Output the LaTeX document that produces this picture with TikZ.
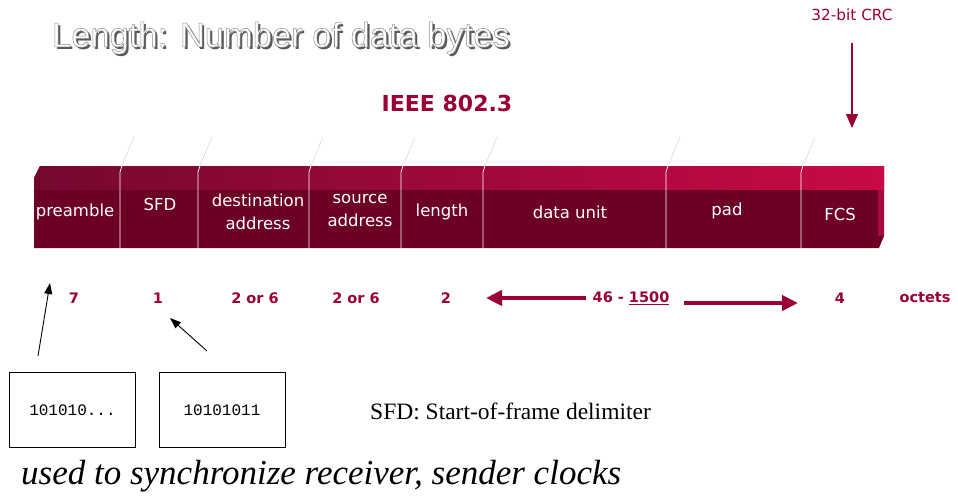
\documentclass[tikz,border=0pt]{standalone}
\usepackage{fontspec}
\setmainfont{Liberation Serif}
\newfontfamily\labelfont{DejaVu Sans}
\newfontfamily\headfont{Liberation Sans}
\newfontfamily\bitfont{Liberation Mono}
\usetikzlibrary{arrows.meta}
\definecolor{frontred}{HTML}{6C0026}
\definecolor{leftred}{HTML}{760830}
\definecolor{brightred}{HTML}{C80A46}
\definecolor{sidered}{HTML}{A8083C}
\definecolor{textred}{HTML}{9A0036}
% outlined text: fill plus grey stroke via the PDF text render mode
\newcommand{\outlined}[1]{\special{pdf:literal direct 2 Tr 0.5 w 0.55 0.55 0.55 RG}#1\special{pdf:literal direct 0 Tr}}
\tikzset{
  field/.style={text=white, font=\labelfont\fontsize{16.5}{23}\selectfont, align=center, inner sep=0pt},
  size/.style={text=textred, font=\labelfont\bfseries\fontsize{14.5}{16}\selectfont, inner sep=0pt},
  divider/.style={white, line width=0.7pt},
  ghost/.style={gray!35, line width=0.5pt},
  thickarrow/.style={textred, line width=4pt, -{Triangle[length=16pt,width=15pt]}},
  thinarrow/.style={black, line width=0.9pt, -{Triangle[length=11pt,width=8pt]}},
  bitbox/.style={draw=black, line width=0.8pt, minimum width=126pt, minimum height=75pt, inner sep=0pt, font=\bitfont\fontsize{16}{18}\selectfont}
}
\begin{document}
\begin{tikzpicture}[x=1pt,y=-1pt]
\useasboundingbox (0,0) rectangle (958,498);

% title: drop shadow, then white text with a grey outline
\node[text=black!65, font=\headfont\fontsize{34.5}{38}\selectfont] (titleshadow) at (283.2,40.2) {Length: Number of data bytes};
\node[text=white, font=\headfont\fontsize{34.5}{38}\selectfont] (title) at (281,38) {\outlined{Length: Number of data bytes}};

% standard name
\node[text=textred, font=\labelfont\bfseries\fontsize{22}{26}\selectfont] (std) at (447,103) {IEEE 802.3};

% CRC note
\node[text=textred, font=\labelfont\fontsize{15.3}{18}\selectfont] (crc) at (852,15) {32-bit CRC};
\coordinate (crctip) at (852,128);
\draw[textred, line width=1.2pt, -{Triangle[length=14pt,width=12pt]}] (852,43) -- (crctip);

% frame bar: front face, shaded top face, right side
\fill[frontred] (40,166) -- (884,166) -- (884,236) -- (879,248) -- (34,248) -- (34,178) -- cycle;
\shade[left color=leftred, right color=brightred] (40,166) rectangle (884,190);
\fill[sidered] (878,190) rectangle (884,236);
\fill[frontred] (40,190) rectangle (878,248);
\fill[leftred!70!frontred] (34,178) -- (40,166) -- (40,190) -- (34,190) -- cycle;

% field dividers and their faint upward traces
\foreach \x in {120,198,309,401,483,666,801} {
  \draw[ghost] (\x+1,168) -- (\x+14,137);
  \draw[divider] (\x+2,166) -- (\x,172) -- (\x,252);
}

% field names
\node[field] (pre) at (75,212) {preamble};
\node[field] (sfd) at (160,204) {SFD};
\node[field] (dst) at (258,212) {destination\\address};
\node[field] (src) at (360,210) {source\\address};
\node[field] (len) at (442,212) {length};
\node[field] (data) at (570,212) {data unit};
\node[field] (pad) at (727,211) {pad};
\node[field] (fcs) at (840,214) {FCS};

% field sizes
\node[size] (n7) at (74,298) {7};
\node[size] (n1) at (158,298) {1};
\node[size] (n26a) at (255,298) {2 or 6};
\node[size] (n26b) at (356,298) {2 or 6};
\node[size] (n2) at (446,298) {2};
\node[size] (range) at (631,298) {46 - \underline{1500}};
\node[size] (n4) at (840,298) {4};
\node[size] (oct) at (925,298) {octets};

\coordinate (rangeL) at (486,298);
\coordinate (rangeR) at (798,303);
\draw[thickarrow] (range.west) ++(-6,0) -- (rangeL);
\draw[thickarrow] (684,303) -- (rangeR);

% bit pattern boxes
\node[bitbox] (prebits) at (72.5,410) {101010...};
\node[bitbox] (sfdbits) at (222,410) {10101011};
\coordinate (pretail) at (38,356);
\coordinate (pretip) at (50,283);
\coordinate (sfdtail) at (207,351);
\coordinate (sfdtip) at (170,318);
\draw[thinarrow] (pretail) -- (pretip);
\draw[thinarrow] (sfdtail) -- (sfdtip);

\node[font=\fontsize{23.5}{26}\selectfont, anchor=west, inner sep=0pt] (sfdnote) at (370,411) {SFD: Start-of-frame delimiter};
\node[font=\itshape\fontsize{35}{38}\selectfont, anchor=west, inner sep=0pt] (sync) at (21,476) {used to synchronize receiver, sender clocks};
\end{tikzpicture}
\end{document}
